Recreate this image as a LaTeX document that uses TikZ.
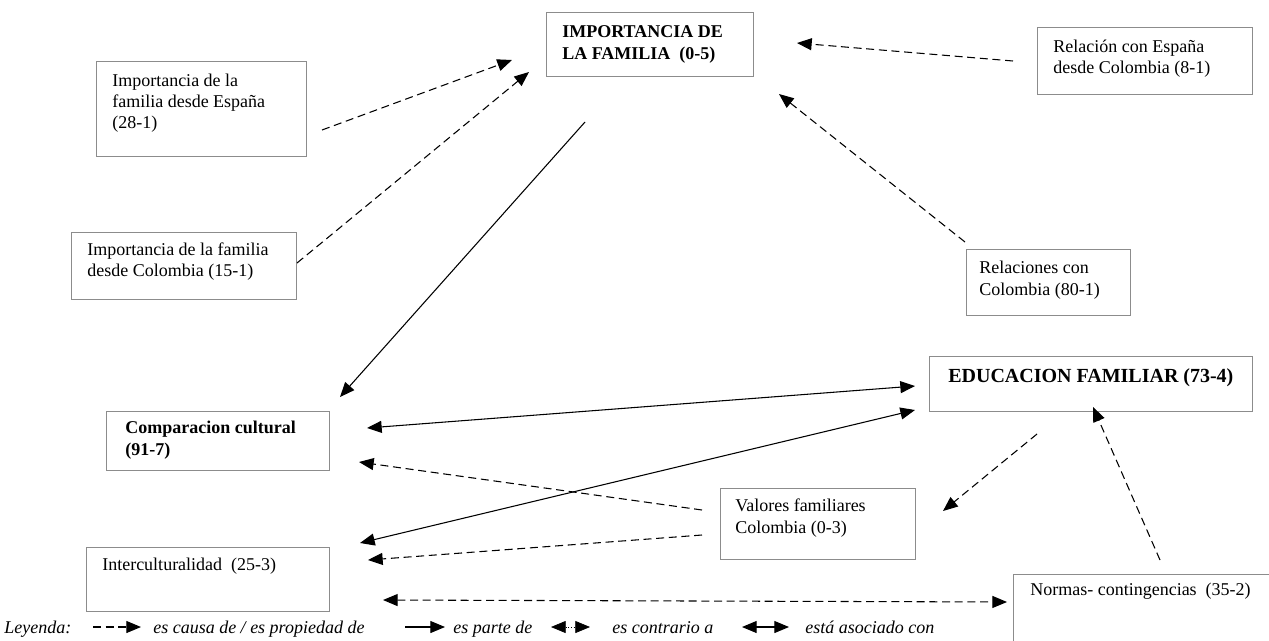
\documentclass[tikz,border=0pt]{standalone}
\usepackage{fontspec}
\setmainfont{Liberation Serif}
\usetikzlibrary{arrows.meta,fit}
\begin{document}
\begin{tikzpicture}[x=0.75pt,y=-0.75pt,
  box/.style={draw=black!45, line width=0.75pt, inner sep=0pt},
  txt/.style={anchor=north west, inner sep=0pt, align=left, font=\fontsize{13.5}{16}\selectfont},
  btxt/.style={txt, font=\fontsize{13.5}{16}\selectfont\bfseries},
  bigtxt/.style={txt, font=\fontsize{15}{17}\selectfont\bfseries},
  ltxt/.style={anchor=base west, inner sep=0pt, font=\fontsize{13.5}{16}\selectfont\itshape},
  tip/.style={-{Triangle[length=11pt,width=9pt]}},
  causa/.style={tip, dash pattern=on 6pt off 3.5pt, line width=0.8pt},
  parte/.style={tip, line width=0.8pt},
  asoc/.style={{Triangle[length=11pt,width=9pt]}-{Triangle[length=11pt,width=9pt]}, line width=0.8pt},
  causaboth/.style={asoc, dash pattern=on 6pt off 3.5pt},
  contra/.style={{Triangle[length=11pt,width=9pt]}-{Triangle[length=11pt,width=9pt]}, line width=0.5pt, dash pattern=on 0.8pt off 1.2pt}
]
\useasboundingbox (0,0) rectangle (1269,640);
\clip (0,0) rectangle (1269,640);
\fill[white] (0,0) rectangle (1269,640);

% boxes
\node[box, fit={(546,12) (753,76)}] (imp) {};
\node[btxt] (impT) at (562,25.5) {IMPORTANCIA DE\\LA FAMILIA\ \ (0-5)};

\node[box, fit={(96,61) (306,156)}] (esp) {};
\node[txt] (espT) at (112,73.5) {Importancia de la\\familia desde España\\(28-1)};

\node[box, fit={(1037,27) (1252,94)}] (rel) {};
\node[txt] (relT) at (1053,39.5) {Relación con España\\desde Colombia (8-1)};

\node[box, fit={(71,232) (296,299)}] (col) {};
\node[txt] (colT) at (87,242.5) {Importancia de la familia\\desde Colombia (15-1)};

\node[box, fit={(966,249) (1130,315)}] (rco) {};
\node[txt] (rcoT) at (979,261) {Relaciones con\\Colombia (80-1)};

\node[box, fit={(929,356) (1252,411)}] (edu) {};
\node[bigtxt] (eduT) at (948,368) {EDUCACION FAMILIAR (73-4)};

\node[box, fit={(106,411) (329,470)}] (com) {};
\node[btxt] (comT) at (125,421) {Comparacion cultural\\(91-7)};

\node[box, fit={(720,488) (915,559)}] (val) {};
\node[txt] (valT) at (735,499) {Valores familiares\\Colombia (0-3)};

\node[box, fit={(86,547) (329,611)}] (int) {};
\node[txt] (intT) at (102,558) {Interculturalidad\ \ (25-3)};

\node[box, fit={(1013,574) (1290,660)}] (nor) {};
\node[txt] (norT) at (1030,583) {Normas- contingencias\ \ (35-2)};

% connectors
\coordinate (a1s) at (322,130); \coordinate (a1e) at (512,60);
\draw[causa] (a1s) -- (a1e);
\coordinate (a2s) at (297,263); \coordinate (a2e) at (529,72);
\draw[causa] (a2s) -- (a2e);
\coordinate (a3s) at (1013,61); \coordinate (a3e) at (797,43);
\draw[causa] (a3s) -- (a3e);
\coordinate (a4s) at (965,242); \coordinate (a4e) at (779,94);
\draw[causa] (a4s) -- (a4e);
\coordinate (a5s) at (585,122); \coordinate (a5e) at (340,397);
\draw[parte] (a5s) -- (a5e);
\coordinate (a6s) at (367,428); \coordinate (a6e) at (915,386);
\draw[asoc] (a6s) -- (a6e);
\coordinate (a7s) at (360,543); \coordinate (a7e) at (915,410);
\draw[asoc] (a7s) -- (a7e);
\coordinate (a8s) at (702,510); \coordinate (a8e) at (359,462);
\draw[causa] (a8s) -- (a8e);
\coordinate (a9s) at (702,535); \coordinate (a9e) at (368,560);
\draw[causa] (a9s) -- (a9e);
\coordinate (a10s) at (1037,434); \coordinate (a10e) at (943,511);
\draw[causa] (a10s) -- (a10e);
\coordinate (a11s) at (1160,560); \coordinate (a11e) at (1093,407);
\draw[causa] (a11s) -- (a11e);
\coordinate (a12s) at (383,600); \coordinate (a12e) at (1007,602);
\draw[causaboth] (a12s) -- (a12e);

% legend
\node[ltxt] (ley) at (4,633) {Leyenda:};
\coordinate (l1s) at (93,627); \coordinate (l1e) at (141,627);
\draw[causa] (l1s) -- (l1e);
\node[ltxt] (ley1) at (153,633) {es causa de / es propiedad de};
\coordinate (l2s) at (405,627); \coordinate (l2e) at (445,627);
\draw[parte] (l2s) -- (l2e);
\node[ltxt] (ley2) at (453,633) {es parte de};
\coordinate (l3s) at (551,627); \coordinate (l3e) at (590,627);
\draw[contra] (l3s) -- (l3e);
\node[ltxt] (ley3) at (612,633) {es contrario a};
\coordinate (l4s) at (742,627); \coordinate (l4e) at (789,627);
\draw[asoc] (l4s) -- (l4e);
\node[ltxt] (ley4) at (805,633) {está asociado con};
\end{tikzpicture}
\end{document}
